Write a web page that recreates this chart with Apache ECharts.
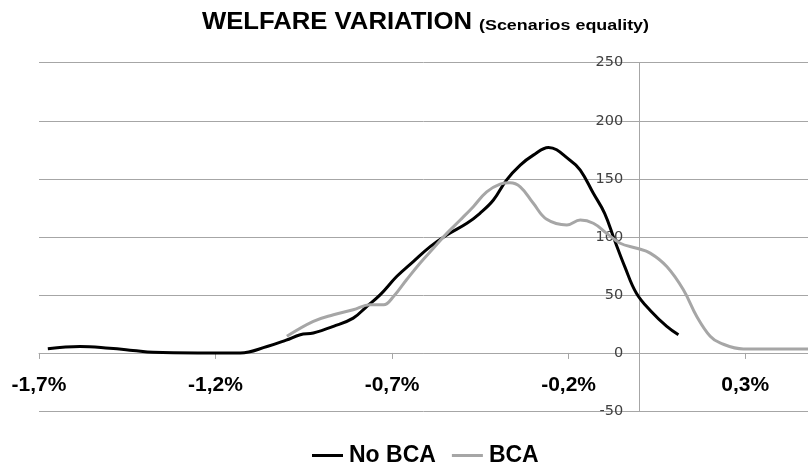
<!DOCTYPE html>
<html>
<head>
<meta charset="utf-8">
<script src="https://cdn.jsdelivr.net/npm/echarts@6/dist/echarts.min.js"></script>
<style>html,body{margin:0;padding:0;background:#fff}#c{width:808px;height:469px}</style>
</head>
<body>
<div id="c"></div>
<script>
const xTickValues = [-1.7, -1.2, -0.7, -0.2, 0.3];
const noBcaX = [-1.675, -1.584, -1.5, -1.434, -1.377, -1.25, -1.13, -1.054, -1.0, -0.96, -0.923, -0.866, -0.81, -0.772, -0.734, -0.687, -0.64, -0.592, -0.545, -0.488, -0.451, -0.413, -0.376, -0.337, -0.3, -0.257, -0.196, -0.167, -0.13, -0.098, -0.07, -0.041, -0.008, 0.034, 0.078, 0.111];
const noBcaY = [3.7, 5.5, 4, 2.2, 0.5, 0, 0, 5.5, 11, 15.7, 17.2, 22.9, 30, 40, 50, 65.8, 78.7, 91.6, 101.6, 111.7, 120.3, 131.7, 148.9, 161.8, 170.4, 177, 166, 157.5, 137.5, 120.3, 97.3, 74.4, 51.5, 35.7, 22.9, 15.7];
const bcaX = [-0.998, -0.923, -0.866, -0.81, -0.762, -0.724, -0.696, -0.659, -0.621, -0.583, -0.545, -0.507, -0.47, -0.432, -0.394, -0.366, -0.337, -0.3, -0.262, -0.205, -0.167, -0.13, -0.092, -0.054, -0.007, 0.031, 0.078, 0.125, 0.163, 0.201, 0.229, 0.295, 0.399, 0.478];
const bcaY = [14.3, 27.2, 32.9, 37.2, 41.5, 41.5, 48.6, 63, 77.3, 90.2, 103, 114.5, 126, 138.8, 145.4, 146.6, 143.1, 128.9, 115.1, 110.2, 114.5, 111.7, 103, 94.5, 90.2, 86, 74.4, 54.4, 31.4, 14.3, 8.6, 3.4, 3.4, 3.4];
const titleMain = 'WELFARE VARIATION';
const titleSub = '(Scenarios equality)';

const labelFont = "'Liberation Sans', sans-serif";
const pair = (xs, ys) => xs.map((x, i) => [x, ys[i]]);

// fit title pieces to the reference widths
const cv = document.createElement('canvas').getContext('2d');
const mainFont = "bold 23px 'Liberation Sans', sans-serif";
const subFont = "bold 15.5px 'Liberation Sans', sans-serif";
cv.font = mainFont;
const mainScale = 270 / cv.measureText(titleMain).width;
cv.font = subFont;
const subScale = 170 / cv.measureText(titleSub).width;

const chart = echarts.init(document.getElementById('c'), null, {renderer: 'canvas'});
const option = {
  animation: false,
  graphic: [
    {type: 'text', x: 202, y: 11.5, scaleX: mainScale, silent: true,
     style: {text: titleMain, font: mainFont, fill: '#000', textVerticalAlign: 'top'}},
    {type: 'text', x: 479, y: 18.2, scaleX: subScale, silent: true,
     style: {text: titleSub, font: subFont, fill: '#000', textVerticalAlign: 'top'}}
  ],
  legend: {
    left: 307,
    top: 439,
    icon: 'rect',
    itemWidth: 31,
    itemHeight: 3,
    itemGap: 16,
    textStyle: {fontFamily: labelFont, fontWeight: 'bold', fontSize: 23, color: '#000', padding: [0, 0, 0, 1]},
    data: ['No BCA', 'BCA']
  },
  grid: {left: 39, right: 0, top: 62.7, bottom: 58, containLabel: false, outerBoundsMode: 'none'},
  xAxis: {
    type: 'value',
    min: -1.7,
    max: 0.478,
    position: 'bottom',
    axisLine: {show: true, onZero: false, lineStyle: {color: '#a6a6a6', width: 1}},
    axisTick: {show: true, length: 6, customValues: xTickValues, lineStyle: {color: '#a6a6a6'}},
    axisLabel: {
      customValues: xTickValues,
      margin: 22,
      fontFamily: labelFont,
      fontWeight: 'bold',
      fontSize: 21,
      color: '#000',
      formatter: v => v.toFixed(1).replace('.', ',') + '%'
    },
    splitLine: {show: false}
  },
  yAxis: {
    type: 'value',
    min: -50,
    max: 250,
    interval: 50,
    position: 'left',
    axisLine: {show: true, onZero: false, lineStyle: {color: '#a6a6a6', width: 1}},
    axisTick: {show: false},
    axisLabel: {margin: 16, fontFamily: 'DejaVu Sans', fontSize: 14.5, color: '#404040'},
    splitLine: {show: true, lineStyle: {color: '#a6a6a6', width: 1}}
  },
  series: [
    {
      name: 'No BCA', type: 'line', smooth: 0.4, symbol: 'none',
      lineStyle: {color: '#000', width: 3}, itemStyle: {color: '#000'},
      data: pair(noBcaX, noBcaY)
    },
    {
      name: 'BCA', type: 'line', smooth: 0.4, symbol: 'none',
      lineStyle: {color: '#a6a6a6', width: 3}, itemStyle: {color: '#a6a6a6'},
      data: pair(bcaX, bcaY)
    }
  ]
};
chart.setOption(option);
// move the axes so they cross at zero (as in the reference)
const origin = chart.convertToPixel({gridIndex: 0}, [0, 0]);
const corner = chart.convertToPixel({gridIndex: 0}, [-1.7, -50]);
chart.setOption({
  xAxis: {offset: origin[1] - corner[1]},
  yAxis: {offset: corner[0] - origin[0]}
});
</script>
</body>
</html>
